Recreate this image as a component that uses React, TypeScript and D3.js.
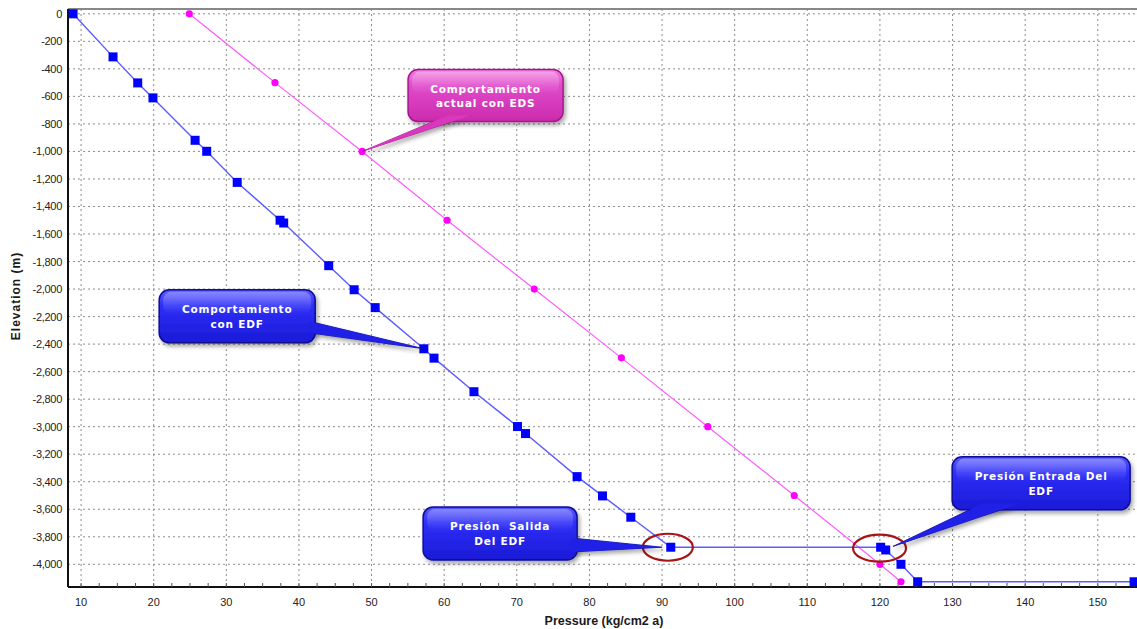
import React from "react";
import * as d3 from "d3";

// ---- data ----
const pressureEDF = [8.9, 14.4, 17.8, 19.9, 25.7, 27.3, 31.5, 37.4, 37.9, 44.1, 47.6, 50.5, 57.2, 58.6, 64.1, 70.1, 71.2, 78.3, 81.8, 85.7, 91.2, 120.1, 120.8, 122.9, 125.2, 155.0];
const elevationEDF = [0, -313, -502, -611, -919, -999, -1225, -1500, -1520, -1830, -2005, -2135, -2434, -2502, -2746, -2999, -3050, -3363, -3503, -3658, -3876, -3876, -3896, -4000, -4127, -4127];

const pressureEDS = [24.9, 36.7, 48.7, 60.4, 72.4, 84.4, 96.3, 108.2, 120.0, 122.9];
const elevationEDS = [0, -500, -1000, -1500, -2000, -2500, -3000, -3500, -4000, -4127];

const xTicks = [10, 20, 30, 40, 50, 60, 70, 80, 90, 100, 110, 120, 130, 140, 150];
const xMinorTicks = d3.range(10, 156, 2.5);
const yTicks = [0, -200, -400, -600, -800, -1000, -1200, -1400, -1600, -1800, -2000, -2200, -2400, -2600, -2800, -3000, -3200, -3400, -3600, -3800, -4000];

const xTitle = "Pressure (kg/cm2 a)";
const yTitle = "Elevation (m)";

// callouts: box centre & target in data units
const calloutLines = [
  ["Comportamiento", "actual con EDS"],
  ["Comportamiento", "con EDF"],
  ["Presión  Salida", "Del EDF"],
  ["Presión Entrada Del", "EDF"],
];
const calloutBoxP = [65.7, 31.5, 67.7, 142.2];
const calloutBoxE = [-594, -2198, -3776, -3412];
const calloutTargetP = [48.7, 57.2, 90.0, 121.8];
const calloutTargetE = [-1000, -2434, -3876, -3870];
const calloutTheme = ["pink", "blue", "blue", "blue"];

const circleP = [90.8, 119.95];
const circleE = [-3876, -3883];

const W = 1137;
const H = 629;

const fmt = d3.formatLocale({ decimal: ".", thousands: ",", grouping: [3], currency: ["$", ""], minus: "-" }).format(",");

export default function App() {
  const x = d3.scaleLinear().domain([8.2, 155.4]).range([68, 1137]);
  const y = d3.scaleLinear().domain([35, -4165]).range([9, 587]);
  const left = 68, right = 1137, top = 9, bottom = 587;

  const lineGen = d3.line<[number, number]>().x((d) => x(d[0])).y((d) => y(d[1]));
  const edf: [number, number][] = pressureEDF.map((p, i) => [p, elevationEDF[i]]);
  const eds: [number, number][] = pressureEDS.map((p, i) => [p, elevationEDS[i]]);

  // callout geometry (sizes / pointer bases in px relative to box centre)
  const boxSize = [[155, 52], [156, 53], [154, 53], [178, 53]];
  const pointerBase = [
    [[-38, 20], [-15, 20]],
    [[72, 5], [72, 16.5]],
    [[71, 4.5], [71, 18.5]],
    [[-58, 20], [-21, 20]],
  ];

  return (
    <svg
      width={W}
      height={H}
      style={{ position: "absolute", left: 0, top: 0, background: "#fff" }}
      fontFamily="'Liberation Sans', Arial, sans-serif"
    >
      <defs>
        <linearGradient id="gBlue" x1="0" y1="0" x2="0" y2="1">
          <stop offset="0" stopColor="#5a5aff" />
          <stop offset="0.3" stopColor="#2e2ef8" />
          <stop offset="1" stopColor="#1a1ad6" />
        </linearGradient>
        <linearGradient id="gPink" x1="0" y1="0" x2="0" y2="1">
          <stop offset="0" stopColor="#f27ee0" />
          <stop offset="0.3" stopColor="#e04ccb" />
          <stop offset="1" stopColor="#cc2aac" />
        </linearGradient>
        <linearGradient id="gGloss" x1="0" y1="0" x2="0" y2="1">
          <stop offset="0" stopColor="#ffffff" stopOpacity="0.3" />
          <stop offset="1" stopColor="#ffffff" stopOpacity="0" />
        </linearGradient>
        <filter id="shadow" x="-20%" y="-20%" width="140%" height="150%">
          <feDropShadow dx="2" dy="3" stdDeviation="2" floodColor="#000" floodOpacity="0.35" />
        </filter>
      </defs>

      {/* grid */}
      {xTicks.map((t) => (
        <line key={"gx" + t} x1={x(t)} x2={x(t)} y1={top} y2={bottom} stroke="#8c8c8c" strokeWidth={1} strokeDasharray="2,3" />
      ))}
      {yTicks.map((t) => (
        <line key={"gy" + t} x1={left} x2={right} y1={y(t)} y2={y(t)} stroke="#8c8c8c" strokeWidth={1} strokeDasharray="2,3" />
      ))}

      {/* frame */}
      <line x1={left} x2={right} y1={top} y2={top} stroke="#888" strokeWidth={2} />
      <line x1={left} x2={left} y1={top} y2={bottom} stroke="#111" strokeWidth={2} />
      <line x1={left} x2={right} y1={bottom} y2={bottom} stroke="#111" strokeWidth={2} />

      {/* minor ticks */}
      {xMinorTicks.map((t) => (
        <line key={"mx" + t} x1={x(t)} x2={x(t)} y1={bottom} y2={bottom - 4} stroke="#555" strokeWidth={1} />
      ))}

      {/* tick labels */}
      {xTicks.map((t) => (
        <text key={"lx" + t} x={x(t)} y={606} textAnchor="middle" fontSize={11} fill="#222">
          {t}
        </text>
      ))}
      {yTicks.map((t) => (
        <text key={"ly" + t} x={62} y={y(t) + 4} textAnchor="end" fontSize={11} fill="#222" letterSpacing={-0.3}>
          {fmt(t)}
        </text>
      ))}

      {/* titles */}
      <text x={604} y={625} textAnchor="middle" fontSize={12.5} fontWeight="bold" fill="#1a1a1a">
        {xTitle}
      </text>
      <text
        transform={`translate(20,296) rotate(-90)`}
        textAnchor="middle"
        fontSize={12}
        fontWeight="bold"
        fill="#1a1a1a"
        letterSpacing={1}
      >
        {yTitle}
      </text>

      {/* series */}
      <path d={lineGen(eds) || ""} fill="none" stroke="#ff5cff" strokeWidth={1.2} />
      <path d={lineGen(edf) || ""} fill="none" stroke="#5c5cff" strokeWidth={1.4} />
      {eds.map((d, i) => (
        <circle key={"c" + i} cx={x(d[0])} cy={y(d[1])} r={3.6} fill="#ff00ff" />
      ))}
      {edf.map((d, i) => (
        <rect key={"s" + i} x={x(d[0]) - 4.5} y={y(d[1]) - 4.5} width={9} height={9} fill="#0000ff" />
      ))}

      {/* red ellipses */}
      {circleP.map((p, i) => (
        <ellipse key={"el" + i} cx={x(p)} cy={y(circleE[i])} rx={i === 0 ? 25 : 26.5} ry={13.5} fill="none" stroke="#a81414" strokeWidth={2.2} />
      ))}

      {/* callouts */}
      {calloutLines.map((lines, i) => {
        const cx = x(calloutBoxP[i]);
        const cy = y(calloutBoxE[i]);
        const [w, h] = boxSize[i];
        const tx = x(calloutTargetP[i]);
        const ty = y(calloutTargetE[i]);
        const pink = calloutTheme[i] === "pink";
        const fill = pink ? "url(#gPink)" : "url(#gBlue)";
        const stroke = pink ? "#a5188c" : "#0c0c96";
        const b = pointerBase[i];
        const ptr = `M${cx + b[0][0]},${cy + b[0][1]} L${tx},${ty} L${cx + b[1][0]},${cy + b[1][1]} Z`;
        const ptrFill = pink ? "#d838bd" : "#2020e6";
        return (
          <g key={"co" + i}>
            <path d={ptr} fill={ptrFill} stroke={stroke} strokeWidth={0.8} filter="url(#shadow)" />
            <rect x={cx - w / 2} y={cy - h / 2} width={w} height={h} rx={10} ry={10} fill={fill} stroke={stroke} strokeWidth={1.5} filter="url(#shadow)" />
            <rect x={cx - w / 2 + 4} y={cy - h / 2 + 2} width={w - 8} height={h * 0.42} rx={8} ry={8} fill="url(#gGloss)" />
            <path d={ptr} fill={ptrFill} stroke="none" />
            {lines.map((ln, j) => (
              <text
                key={j}
                x={cx}
                y={cy - 3 + j * 14.5}
                textAnchor="middle"
                fontFamily="'DejaVu Sans', Verdana, sans-serif"
                fontWeight="bold"
                fontSize={10.5}
                letterSpacing={0.8}
                fill="#ffffff"
                style={{ whiteSpace: "pre" }}
              >
                {ln}
              </text>
            ))}
          </g>
        );
      })}
    </svg>
  );
}
